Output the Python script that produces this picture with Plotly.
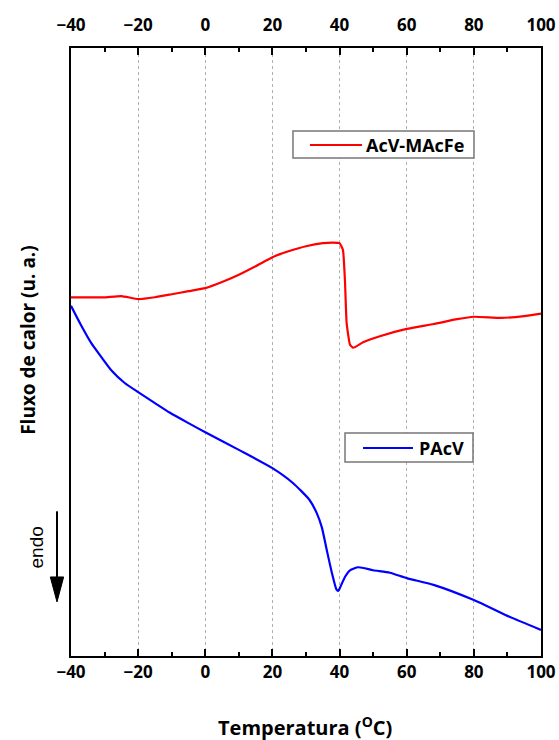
import plotly.graph_objects as go

# DSC curves, heat flow in arbitrary units
temp_acv_mac = [-40, -35, -30, -25, -20, -15, -10, -5, 0, 5, 10, 15, 20, 25, 30, 35, 38, 40,
                41, 41.6, 42.1, 43.1, 44.1, 47, 52, 60, 68, 75, 80, 88, 95, 100]
flux_acv_mac = [5.90, 5.90, 5.90, 5.92, 5.87, 5.90, 5.95, 6.00, 6.05, 6.15, 6.27, 6.41, 6.56,
                6.66, 6.74, 6.79, 6.80, 6.79, 6.68, 6.18, 5.48, 5.12, 5.07, 5.16, 5.26, 5.38,
                5.46, 5.54, 5.58, 5.56, 5.59, 5.63]

temp_pacv = [-40, -37, -34, -31, -28, -24, -20, -15, -10.5, -5, 0, 10, 20, 26, 31, 33.2, 34.7,
             36.2, 37.7, 39.1, 39.6, 40.1, 41.6, 43.1, 45.6, 50, 55, 60, 68, 80, 90, 100]
flux_pacv = [5.76, 5.44, 5.15, 4.92, 4.70, 4.49, 4.34, 4.16, 4.00, 3.83, 3.68, 3.39, 3.09, 2.85,
             2.57, 2.35, 2.12, 1.74, 1.37, 1.09, 1.07, 1.12, 1.30, 1.41, 1.46, 1.41, 1.37, 1.28,
             1.17, 0.92, 0.66, 0.43]

x_ticks = [-40, -20, 0, 20, 40, 60, 80, 100]

FONT = 'Open Sans'
BOLD = dict(family=FONT, color='black', weight='bold')

fig = go.Figure()
fig.add_trace(go.Scatter(x=temp_acv_mac, y=flux_acv_mac, mode='lines', name='AcV-MAcFe',
                         line=dict(color='#ff0000', width=2.2, shape='spline', smoothing=0.4)))
fig.add_trace(go.Scatter(x=temp_pacv, y=flux_pacv, mode='lines', name='PAcV',
                         line=dict(color='#0000ff', width=2.2, shape='spline', smoothing=0.6)))
# dummy trace to carry the top axis
fig.add_trace(go.Scatter(x=[-40, 100], y=[0, 0], xaxis='x2', mode='lines',
                         line=dict(width=0), showlegend=False, hoverinfo='skip'))

axis_common = dict(range=[-40, 100], tickvals=x_ticks, ticks='inside', ticklen=7, tickwidth=2,
                   tickcolor='black', showline=True, linecolor='black', linewidth=2,
                   tickfont=dict(**BOLD, size=17), ticklabeloverflow='allow', automargin=False,
                   minor=dict(dtick=10, ticks='inside', ticklen=4, tickwidth=2,
                              tickcolor='black', showgrid=False),
                   zeroline=False)


def legend_box(x0, x1, y0, y1, lx0, lx1, ly, tx, label, color):
    shapes = [
        dict(type='rect', xref='paper', yref='paper', x0=x0, x1=x1, y0=y0, y1=y1,
             line=dict(color='#777777', width=1.5), fillcolor='white', layer='above'),
        dict(type='line', xref='paper', yref='paper', x0=lx0, x1=lx1, y0=ly, y1=ly,
             line=dict(color=color, width=2.2), layer='above'),
    ]
    ann = dict(text=label, xref='paper', yref='paper', x=tx, y=ly, showarrow=False,
               xanchor='left', yanchor='middle', font=dict(**BOLD, size=18))
    return shapes, ann


s1, a1 = legend_box(0.4723, 0.8574, 0.8191, 0.8635, 0.5085, 0.6191, 0.8405, 0.624,
                    'AcV-MAcFe', '#ff0000')
s2, a2 = legend_box(0.583, 0.8553, 0.3191, 0.3668, 0.6213, 0.7277, 0.3421, 0.737,
                    'PAcV', '#0000ff')

fig.update_layout(
    width=559, height=740, paper_bgcolor='white', plot_bgcolor='white',
    margin=dict(l=71, r=18, t=48, b=84, autoexpand=False),
    showlegend=False,
    xaxis=dict(**axis_common, showgrid=True, gridcolor='#b0b0b0', griddash='dot', gridwidth=1,
               mirror=True),
    xaxis2=dict(**axis_common, overlaying='x', side='top', showgrid=False,
                ticklabelstandoff=8),
    yaxis=dict(range=[0, 10], showticklabels=False, showgrid=False, zeroline=False,
               showline=True, linecolor='black', linewidth=2, mirror=True, ticks='',
               automargin=False),
    annotations=[
        a1, a2,
        dict(text='Fluxo de calor (u. a.)', xref='paper', yref='paper', x=-0.0915, y=0.52,
             textangle=-90, showarrow=False, xanchor='center', yanchor='middle',
             font=dict(**BOLD, size=19)),
        dict(text='Temperatura (<sup>O</sup>C)', xref='paper', yref='paper', x=0.497, y=-0.116,
             showarrow=False, xanchor='center', yanchor='middle',
             font=dict(**BOLD, size=20)),
        dict(text='endo', xref='paper', yref='paper', x=-0.073, y=0.178, textangle=-90,
             showarrow=False, xanchor='center', yanchor='middle',
             font=dict(family='Liberation Sans', size=19, color='black')),
    ],
    shapes=s1 + s2 + [
        dict(type='line', xref='paper', yref='paper', x0=-0.0298, x1=-0.0298, y0=0.238, y1=0.13,
             line=dict(color='black', width=2)),
        dict(type='path', xref='paper', yref='paper',
             path='M -0.0440 0.130 L -0.0156 0.130 L -0.0298 0.089 Z',
             fillcolor='black', line=dict(color='black', width=1)),
    ],
)

# the page's default body margin would push the figure out of the window
fig.write_html("out.html", config={'displayModeBar': False},
               post_script="document.body.style.margin = '0px';")
